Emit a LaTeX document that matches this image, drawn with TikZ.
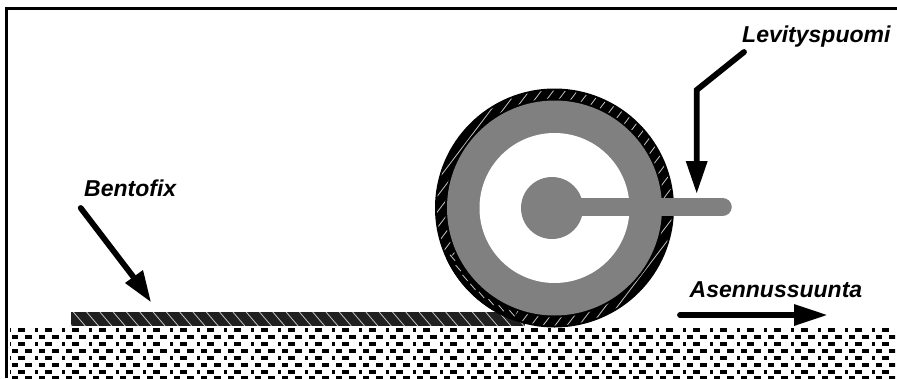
\documentclass[tikz,border=0pt]{standalone}
\usepackage{fontspec}
\setmainfont{Liberation Sans}
\usetikzlibrary{calc}
\definecolor{rollgray}{HTML}{808080}
\definecolor{matdark}{HTML}{202020}
\definecolor{hatchgray}{HTML}{C4C4C4}
\tikzset{
  label text/.style={font=\fontsize{23}{23}\selectfont\bfseries\itshape,anchor=base west,inner sep=0pt,text=black},
  pointer/.style={line width=5.8pt,black,line cap=round,miter limit=10},
  pointerhead/.style={fill=black,draw=none},
  hatchline/.style={hatchgray,line width=0.8pt},
  gdash/.style={fill=black,draw=none}
}
\begin{document}
\begin{tikzpicture}[x=1pt,y=-1pt]
\useasboundingbox (0,0) rectangle (897,378);
\fill[white] (0,0) rectangle (897,378);
% frame
\draw[black,line width=3pt] (6,378) -- (6,8) -- (897,8);
% ground
\begin{scope}
\clip (10,327.5) rectangle (895,378);
\foreach \yy in {329.7,343.7,357.7,371.7}{
  \foreach \k in {-1,...,32}{
    \fill[gdash] ({35+27*\k},{\yy-1.8}) rectangle ({38.3+27*\k},{\yy+1.8});
    \fill[gdash] ({45+27*\k},{\yy-1.8}) rectangle ({51.7+27*\k},{\yy+1.8});
  }
}
\foreach \yy in {336.7,350.7,364.7,378.2}{
  \foreach \k in {0,...,65}{
    \fill[gdash] ({11.7+13.5*\k},{\yy-1.8}) rectangle ({18.3+13.5*\k},{\yy+1.8});
  }
}
\end{scope}
% mat
\fill[matdark] (71,312) rectangle (525,326);
\begin{scope}
\clip (71,312) rectangle (525,326);
\foreach \k in {0,...,35}{
  \draw[hatchline] ({60+13.3*\k},312) -- ({72+13.3*\k},326);
}
\end{scope}
% roll
\coordinate (c) at (554.5,208);
\coordinate (hub) at (552,208);
\fill[black] (c) circle (119.5);
\begin{scope}
\clip (c) circle (117.5);
\foreach \k in {-25,...,32}{
  \draw[hatchline] ({400+12*\k},340) -- ({400+12*\k+190},90);
}
\end{scope}
\fill[black] (c) circle (109.5);
% lower-left sector: strokes lean the other way
\fill[black] (c) ++(110:107.5) arc[start angle=110,end angle=155,radius=107.5]
  -- ++(155:12) arc[start angle=155,end angle=110,radius=119.5] -- cycle;
\foreach \a in {112,118,...,154}{
  \draw[hatchline] ($(c)+(\a:113.5)+(-2.6,-3)$) -- ($(c)+(\a:113.5)+(2.6,3)$);
}
\fill[rollgray] (c) circle (107.5);
\fill[white] (c) circle (75);
\fill[rollgray] (hub) circle (31);
\coordinate (rodend) at (722.4,207);
\draw[rollgray,line width=18.7pt,line cap=round] (hub |- rodend) -- (rodend);
% labels
\node[label text] (lev) at (742,42) {Levityspuomi};
\node[label text] (ben) at (84,196.5) {Bentofix};
\node[label text] (ase) at (689.5,297) {Asennussuunta};
% pointers
\coordinate (a1) at (744,52);
\coordinate (a2) at (696.7,90);
\coordinate (a3) at (696.7,165);
\coordinate (a4) at (696.7,193);
\draw[pointer] (a1) -- (a2) -- (a3);
\fill[pointerhead] (a4) -- (685.7,161) -- (707.7,161) -- cycle;
\coordinate (b1) at (80.7,208);
\coordinate (b2) at (138,283);
\coordinate (b3) at (150.7,301.7);
\draw[pointer] (b1) -- (b2);
\fill[pointerhead] (b3) -- (125,283) -- (143,270) -- cycle;
\coordinate (d1) at (680,315);
\coordinate (d2) at (798,315);
\coordinate (d3) at (826.7,315);
\draw[pointer] (d1) -- (d2);
\fill[pointerhead] (d3) -- (794,304) -- (794,326) -- cycle;
\end{tikzpicture}
\end{document}
